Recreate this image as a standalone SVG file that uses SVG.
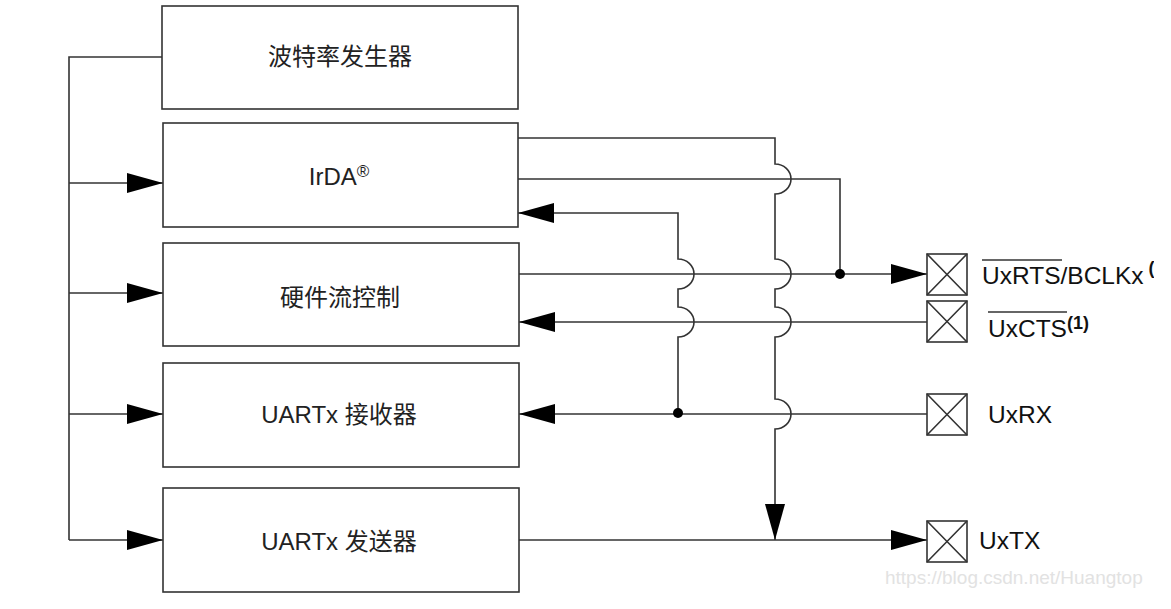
<svg xmlns="http://www.w3.org/2000/svg" width="1171" height="609" viewBox="0 0 1171 609">
<style>
.box{fill:#fff;stroke:#333;stroke-width:1.6}
.ln{fill:none;stroke:#333;stroke-width:1.6}
.lbl{font-family:"Liberation Sans","Noto Sans CJK SC",sans-serif;font-size:24px;fill:#222}
.pin{font-family:"Liberation Sans",sans-serif;font-size:24.5px;fill:#111}
.sup{font-size:18px;font-weight:bold}
.arr{marker-end:url(#ah)}
</style>
<defs>
<marker id="ah" viewBox="0 0 36 20" markerUnits="userSpaceOnUse" markerWidth="36" markerHeight="20" refX="36" refY="10" orient="auto">
<path d="M0,0 L36,10 L0,20 Z" fill="#000"/>
</marker>
<clipPath id="edge"><rect x="0" y="0" width="1154" height="609"/></clipPath>
</defs>
<rect width="1171" height="609" fill="#fff"/>

<g id="connectors">
<path class="ln" d="M162,57 H69 V540"/>
<path class="ln arr" d="M69,183 H163"/>
<path class="ln arr" d="M69,293 H163"/>
<path class="ln arr" d="M69,414 H163"/>
<path class="ln arr" d="M69,540 H163"/>
<path class="ln arr" d="M518,138 H775 V164 A16 15 0 0 1 775,194 V259 A16 15 0 0 1 775,289 V307 A16 15 0 0 1 775,337 V399 A16 15 0 0 1 775,429 V540"/>
<path class="ln" d="M518,179 H840 V274"/>
<path class="ln arr" d="M519,274 H927"/>
<path class="ln arr" d="M927,322 H519"/>
<path class="ln arr" d="M927,414 H519"/>
<path class="ln arr" d="M678,414 V337 A16 15 0 0 0 678,307 V289 A16 15 0 0 0 678,259 V213 H518"/>
<path class="ln arr" d="M518,540 H927"/>
<circle cx="840" cy="274" r="5" fill="#000"/>
<circle cx="678" cy="413" r="5" fill="#000"/>
</g>

<g id="baud">
<rect class="box" x="162" y="6" width="356" height="103"/>
<text class="lbl" x="340" y="65" text-anchor="middle">波特率发生器</text>
</g>
<g id="irda">
<rect class="box" x="163" y="123" width="355" height="104"/>
<text class="lbl" x="339" y="185" text-anchor="middle">IrDA<tspan font-size="17" dy="-8">®</tspan></text>
</g>
<g id="flowctrl">
<rect class="box" x="163" y="243" width="356" height="103"/>
<text class="lbl" x="340" y="306" text-anchor="middle">硬件流控制</text>
</g>
<g id="receiver">
<rect class="box" x="163" y="363" width="356" height="104"/>
<text class="lbl" x="339" y="423" text-anchor="middle">UARTx 接收器</text>
</g>
<g id="transmitter">
<rect class="box" x="163" y="488" width="356" height="104"/>
<text class="lbl" x="339" y="550" text-anchor="middle">UARTx 发送器</text>
</g>

<g id="pin-rts">
<rect class="box" x="927" y="254" width="40" height="41"/>
<path class="ln" d="M927,254 L967,295 M967,254 L927,295"/>
<line class="ln" x1="982" y1="260" x2="1062" y2="260"/>
<text class="pin" x="982" y="284" clip-path="url(#edge)">UxRTS/BCLKx<tspan class="sup" dx="5" dy="-10">(1)</tspan></text>
</g>
<g id="pin-cts">
<rect class="box" x="927" y="301" width="40" height="41"/>
<path class="ln" d="M927,301 L967,342 M967,301 L927,342"/>
<line class="ln" x1="988" y1="312" x2="1067" y2="312"/>
<text class="pin" x="988" y="337">UxCTS<tspan class="sup" dy="-8">(1)</tspan></text>
</g>
<g id="pin-rx">
<rect class="box" x="927" y="394" width="40" height="41"/>
<path class="ln" d="M927,394 L967,435 M967,394 L927,435"/>
<text class="pin" x="988" y="423">UxRX</text>
</g>
<g id="pin-tx">
<rect class="box" x="927" y="521" width="40" height="41"/>
<path class="ln" d="M927,521 L967,562 M967,521 L927,562"/>
<text class="pin" x="979" y="549">UxTX</text>
</g>

<text x="885" y="584" font-family="Liberation Sans,sans-serif" font-size="19" fill="#e2e2e2">https://blog.csdn.net/Huangtop</text>
</svg>
